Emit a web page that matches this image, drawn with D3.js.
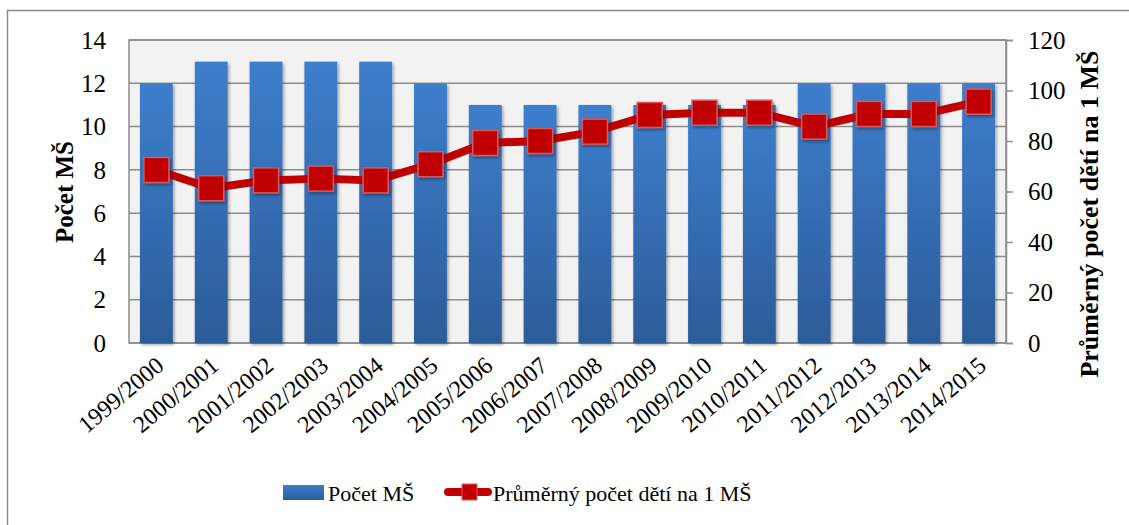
<!DOCTYPE html>
<html>
<head>
<meta charset="utf-8">
<script src="https://cdn.jsdelivr.net/npm/d3@7"></script>
<style>
  body { margin: 0; background: #fff; }
</style>
</head>
<body>
<div id="chart-area"></div>
<script>
// data
var years = ["1999/2000", "2000/2001", "2001/2002", "2002/2003", "2003/2004", "2004/2005",
             "2005/2006", "2006/2007", "2007/2008", "2008/2009", "2009/2010", "2010/2011",
             "2011/2012", "2012/2013", "2013/2014", "2014/2015"];
var pocetMS = [12, 13, 13, 13, 13, 12, 11, 11, 11, 11, 11, 11, 12, 12, 12, 12];
var prumerDeti = [68.5, 61.3, 64.4, 65.1, 64.4, 70.8, 79.2, 80.0, 83.7, 90.3, 91.2, 91.2, 85.7, 90.7, 90.7, 95.6];
var leftTicks = [0, 2, 4, 6, 8, 10, 12, 14];
var rightTicks = [0, 20, 40, 60, 80, 100, 120];

var FONT = "'Liberation Serif', 'Times New Roman', serif";
var W = 1129, H = 525;
var margin = { left: 129, right: 123, top: 40, bottom: 182 };
var width = W - margin.left - margin.right,
    height = H - margin.top - margin.bottom;

var svg = d3.select("#chart-area").append("svg")
    .attr("width", W)
    .attr("height", H)
    .attr("font-family", FONT);

var defs = svg.append("defs");
var grad = defs.append("linearGradient")
    .attr("id", "barGrad").attr("x1", 0).attr("y1", 0).attr("x2", 0).attr("y2", 1);
grad.append("stop").attr("offset", "0%").attr("stop-color", "#3d7ecd");
grad.append("stop").attr("offset", "100%").attr("stop-color", "#2c5c99");

var shadow = defs.append("filter").attr("id", "shadow")
    .attr("x", "-30%").attr("y", "-30%").attr("width", "160%").attr("height", "160%");
shadow.append("feDropShadow")
    .attr("dx", 1.5).attr("dy", 2).attr("stdDeviation", 1.5)
    .attr("flood-color", "#000").attr("flood-opacity", 0.35);

// outer frame
svg.append("rect")
    .attr("x", 7.5).attr("y", 10.5)
    .attr("width", 1140).attr("height", 540)
    .attr("fill", "none").attr("stroke", "#8a8a8a").attr("stroke-width", 1.5);

var g = svg.append("g")
    .attr("transform", "translate(" + margin.left + "," + margin.top + ")");

// scales
var x = d3.scaleBand().domain(years).range([0, width]).paddingInner(0.4).paddingOuter(0.2);
var yL = d3.scaleLinear().domain([0, 14]).range([height, 0]);
var yR = d3.scaleLinear().domain([0, 120]).range([height, 0]);

// plot background
g.append("rect")
    .attr("width", width).attr("height", height)
    .attr("fill", "#f2f2f2");

// gridlines
g.selectAll(".grid").data(leftTicks)
    .enter().append("line")
    .attr("class", "grid")
    .attr("x1", 0).attr("x2", width)
    .attr("y1", d => yL(d)).attr("y2", d => yL(d))
    .attr("stroke", "#8c8c8c").attr("stroke-width", 1.5);

// plot border
g.append("rect")
    .attr("width", width).attr("height", height)
    .attr("fill", "none").attr("stroke", "#8c8c8c").attr("stroke-width", 1.5);

// bars
g.selectAll(".bar").data(pocetMS)
    .enter().append("rect")
    .attr("class", "bar")
    .attr("x", (d, i) => x(years[i]))
    .attr("width", x.bandwidth())
    .attr("y", d => yL(d))
    .attr("height", d => height - yL(d))
    .attr("fill", "url(#barGrad)")
    .attr("filter", "url(#shadow)");

// left axis labels
var leftAxis = d3.axisLeft(yL).tickValues(leftTicks).tickSize(0).tickPadding(23);
var la = g.append("g").call(leftAxis).attr("font-family", FONT).attr("font-size", null);
la.select(".domain").remove();
la.selectAll("text").attr("font-size", "25px").attr("dy", "0.33em");

// right axis
var rightAxis = d3.axisRight(yR).tickValues(rightTicks).tickSize(7).tickPadding(15);
var ra = g.append("g").attr("transform", "translate(" + width + ",0)").call(rightAxis)
    .attr("font-family", FONT).attr("font-size", null);
ra.select(".domain").attr("stroke", "#8c8c8c").attr("stroke-width", 1.5);
ra.selectAll(".tick line").attr("stroke", "#8c8c8c").attr("stroke-width", 1.5);
ra.selectAll("text").attr("font-size", "25px").attr("dy", "0.33em");

// x labels
var bottomAxis = d3.axisBottom(x).tickSize(0);
var xa = g.append("g").attr("transform", "translate(0," + height + ")").call(bottomAxis)
    .attr("font-family", FONT).attr("font-size", null);
xa.select(".domain").remove();
xa.selectAll("text")
    .attr("font-size", "24px")
    .attr("text-anchor", "end")
    .attr("dy", null).attr("y", 0)
    .attr("transform", "translate(9,25) rotate(-40)");

// line
var line = d3.line()
    .x((d, i) => x(years[i]) + x.bandwidth() / 2)
    .y(d => yR(d));

g.append("path")
    .datum(prumerDeti)
    .attr("d", line)
    .attr("fill", "none")
    .attr("stroke", "#c00000")
    .attr("stroke-width", 8)
    .attr("stroke-linejoin", "round");

var ms = 25;
g.selectAll(".marker").data(prumerDeti)
    .enter().append("rect")
    .attr("class", "marker")
    .attr("x", (d, i) => x(years[i]) + x.bandwidth() / 2 - ms / 2)
    .attr("y", d => yR(d) - ms / 2)
    .attr("width", ms).attr("height", ms)
    .attr("fill", "#c00000")
    .attr("stroke", "#d9585a").attr("stroke-width", 1.5)
    .attr("filter", "url(#shadow)");

// axis titles
svg.append("text")
    .attr("transform", "translate(73,192) rotate(-90)")
    .attr("text-anchor", "middle")
    .attr("font-size", "25px")
    .attr("font-weight", "bold")
    .text("Počet MŠ");

svg.append("text")
    .attr("transform", "translate(1098,214) rotate(-90)")
    .attr("text-anchor", "middle")
    .attr("font-size", "26px")
    .attr("font-weight", "bold")
    .text("Průměrný počet dětí na 1 MŠ");

// legend
var leg = svg.append("g");
leg.append("rect")
    .attr("x", 283).attr("y", 485).attr("width", 41).attr("height", 15)
    .attr("fill", "url(#barGrad)");
leg.append("text")
    .attr("x", 328).attr("y", 501)
    .attr("font-size", "22px")
    .text("Počet MŠ");
leg.append("line")
    .attr("x1", 448).attr("x2", 488).attr("y1", 492).attr("y2", 492)
    .attr("stroke", "#c00000").attr("stroke-width", 8).attr("stroke-linecap", "round");
leg.append("rect")
    .attr("x", 462).attr("y", 484).attr("width", 15).attr("height", 16)
    .attr("fill", "#c00000").attr("stroke", "#d9585a").attr("stroke-width", 1);
leg.append("text")
    .attr("x", 493).attr("y", 501)
    .attr("font-size", "22px")
    .text("Průměrný počet dětí na 1 MŠ");
</script>
</body>
</html>
